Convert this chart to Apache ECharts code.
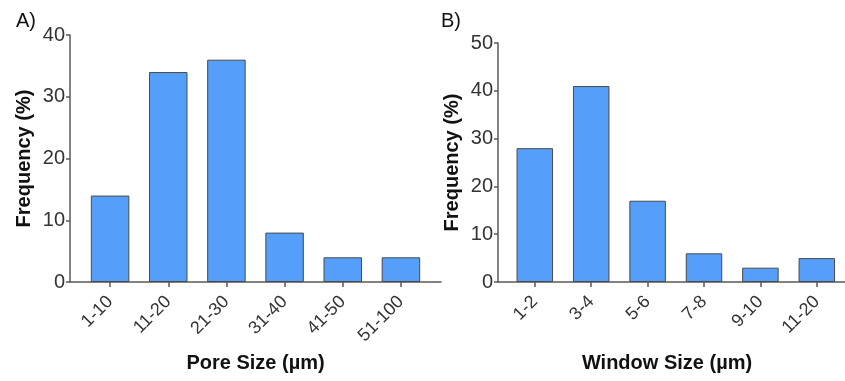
<!DOCTYPE html>
<html>
<head>
<meta charset="utf-8">
<script src="https://cdn.jsdelivr.net/npm/echarts@6/dist/echarts.min.js"></script>
<style>
html,body{margin:0;padding:0;background:#fff;}
#c{width:845px;height:381px;}
</style>
</head>
<body>
<div id="c"></div>
<script>
// Panel A: pore size distribution
const poreCategories = ['1-10', '11-20', '21-30', '31-40', '41-50', '51-100'];
const poreFrequency = [14, 34, 36, 8, 4, 4];
const poreYMax = 40;
// Panel B: window size distribution
const windowCategories = ['1-2', '3-4', '5-6', '7-8', '9-10', '11-20'];
const windowFrequency = [28, 41, 17, 6, 3, 5];
const windowYMax = 50;
const yInterval = 10;

const FONT = '"Liberation Sans", Arial, sans-serif';
const AXIS_COLOR = '#5a5a5a';
const TEXT_COLOR = '#333';
const BAR_COLOR = '#559ffa';

const chart = echarts.init(document.getElementById('c'), null, {renderer: 'canvas'});

function mainX(gridIndex, data) {
  return {
    type: 'category', gridIndex, data, boundaryGap: true,
    axisLine: {show: false},
    axisTick: {show: true, alignWithLabel: true, length: 5, lineStyle: {color: AXIS_COLOR, width: 1.5}},
    axisLabel: {rotate: 45, fontSize: 18, color: TEXT_COLOR, fontFamily: FONT, margin: 17, interval: 0, padding: [0, 0, 0, 0]},
    splitLine: {show: false}
  };
}
function mainY(gridIndex, max) {
  return {type: 'value', gridIndex, min: 0, max, interval: yInterval, show: false, splitLine: {show: false}};
}
function decorX(gridIndex, name, pad) {
  return {
    type: 'value', gridIndex, min: 0, max: 1,
    axisLine: {show: true, onZero: false, lineStyle: {color: AXIS_COLOR, width: 1.5}},
    axisTick: {show: false}, axisLabel: {show: false}, splitLine: {show: false},
    name, nameLocation: 'middle', nameGap: 71,
    nameTextStyle: {fontSize: 20, fontWeight: 'bold', color: '#111', fontFamily: FONT, padding: pad}
  };
}
function decorY(gridIndex, max) {
  return {
    type: 'value', gridIndex, min: 0, max, interval: yInterval,
    axisLine: {show: true, lineStyle: {color: AXIS_COLOR, width: 1.5}},
    axisTick: {show: true, length: 4, lineStyle: {color: AXIS_COLOR, width: 1.5}},
    axisLabel: {fontSize: 20, color: TEXT_COLOR, fontFamily: FONT, margin: 5},
    splitLine: {show: false},
    name: 'Frequency (%)', nameLocation: 'middle', nameGap: 36, nameRotate: 90,
    nameTextStyle: {fontSize: 20, fontWeight: 'bold', color: '#111', fontFamily: FONT}
  };
}

const option = {
  animation: false,
  backgroundColor: '#fff',
  title: [
    {text: 'A)', left: 11, top: 6, textStyle: {fontSize: 20, fontWeight: 'normal', color: '#111', fontFamily: FONT}},
    {text: 'B)', left: 436, top: 6, textStyle: {fontSize: 20, fontWeight: 'normal', color: '#111', fontFamily: FONT}}
  ],
  grid: [
    {left: 81, right: 415, top: 35, height: 247},
    {left: 70, right: 404, top: 35, height: 247},
    {left: 506.6, right: -2.4, top: 43, height: 239},
    {left: 498, right: 0, top: 43, height: 239}
  ],
  xAxis: [
    mainX(0, poreCategories),
    decorX(1, 'Pore Size (µm)', [0, 0, 0, 0]),
    mainX(2, windowCategories),
    decorX(3, 'Window Size (µm)', [0, 9, 0, 0])
  ],
  yAxis: [
    mainY(0, poreYMax),
    decorY(1, poreYMax),
    mainY(2, windowYMax),
    decorY(3, windowYMax)
  ],
  series: [
    {
      type: 'bar', xAxisIndex: 0, yAxisIndex: 0, data: poreFrequency, barWidth: 38.5,
      itemStyle: {color: BAR_COLOR, borderColor: '#4a4a4a', borderWidth: 1}
    },
    {
      type: 'bar', xAxisIndex: 2, yAxisIndex: 2, data: windowFrequency, barWidth: 36.5,
      itemStyle: {color: BAR_COLOR, borderColor: '#4a4a4a', borderWidth: 1}
    }
  ]
};
chart.setOption(option);
</script>
</body>
</html>
